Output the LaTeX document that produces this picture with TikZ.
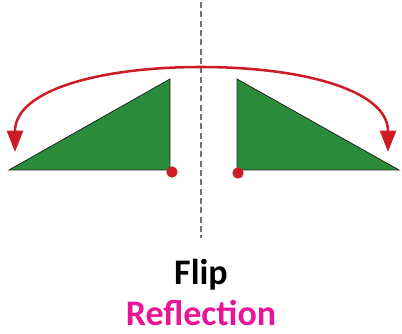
\documentclass[tikz,border=0pt]{standalone}
\usepackage{fontspec}
\setsansfont{Carlito}
\usepackage{tikz}
\usetikzlibrary{arrows.meta}
\definecolor{leafgreen}{RGB}{42,140,58}
\definecolor{flipred}{RGB}{206,28,38}
\definecolor{pinktext}{RGB}{232,22,150}

\begin{document}
\begin{tikzpicture}[x=0.75pt, y=-0.75pt,
        every node/.style={font=\sffamily\bfseries},
        tri/.style={fill=leafgreen, draw=black!85, line width=0.6pt},
        pivot/.style={circle, fill=flipred, inner sep=0pt, minimum size=8.5pt},
        mirror/.style={draw=black!55, line width=1.5pt, dash pattern=on 4.5pt off 2.5pt},
        arrow/.style={draw=flipred, line width=1.9pt, -{Triangle[width=12pt, length=16pt]}}
    ]
    \useasboundingbox (0,0) rectangle (402,334);
%
    \coordinate (top) at (201,2);
    \coordinate (bot) at (201,238);
    \draw[mirror] (top) -- (bot);
%
    \filldraw[tri] (9,170) -- (170,79) -- (170,170) -- cycle;
    \filldraw[tri] (237,79) -- (237,170) -- (399,170) -- cycle;
%
    \node[pivot] (pl) at (172,172) {};
    \node[pivot] (pr) at (238,173) {};
%
    \coordinate (peak) at (201,67);
    \coordinate (lend) at (15,152);
    \coordinate (rend) at (388,152);
    \draw[arrow] (peak) .. controls (100,67) and (15,90) .. (lend);
    \draw[arrow] (peak) .. controls (302,67) and (388,90) .. (rend);
%
    \node[font=\sffamily\bfseries\fontsize{27}{27}\selectfont] (flip) at (201,275) {Flip};
    \node[font=\sffamily\bfseries\fontsize{27}{27}\selectfont, text=pinktext] (refl) at (201,313) {Reflection};
%
\end{tikzpicture}
\end{document}
